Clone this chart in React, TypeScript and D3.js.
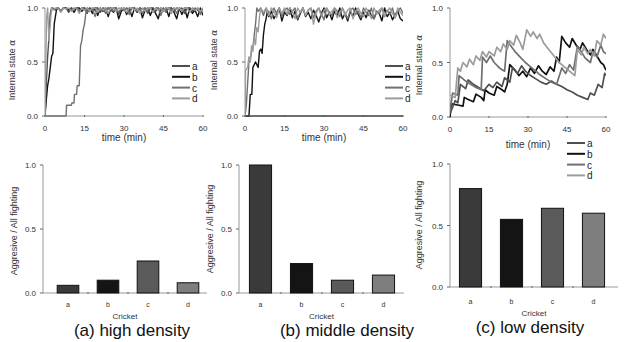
import * as d3 from "d3";

type Pt = [number, number];

// shared categories and ticks
const crickets = ["a", "b", "c", "d"];
const timeTicks = [0, 15, 30, 45, 60];
const stateTicks = [0, 0.5, 1];
const ratioTicks = [0, 0.5, 1];
const lineColors = ["#4f4f4f", "#111111", "#707070", "#9c9c9c"];
const barColors = ["#3a3a3a", "#141414", "#5a5a5a", "#7e7e7e"];
// draw black first so the grey ones sit on top, like the original
const drawOrder = [1, 0, 2, 3];

// aggressive / all fighting per cricket
const highRatio = [0.06, 0.1, 0.25, 0.08];
const middleRatio = [1.0, 0.23, 0.1, 0.14];
const lowRatio = [0.8, 0.55, 0.64, 0.6];

// high density: rising part + per-minute plateau values
const highRiseA: Pt[] = [[0, 0], [0.5, 0.3], [1, 0.55], [1.5, 0.72], [2, 0.95], [2.5, 1]];
const highTailA = [1, 0.98, 1, 0.97, 1, 1, 0.96, 1, 0.99, 1, 0.97, 1, 1, 0.95, 1, 0.98, 1, 1, 0.96, 1, 0.99, 1, 0.97, 1, 1, 0.94, 1, 0.98, 1, 0.97, 1, 1, 0.96, 1, 0.99, 1, 0.95, 1, 1, 0.97, 1, 0.98, 1, 0.96, 1, 1, 0.97, 1, 0.99, 1, 0.95, 1, 1, 0.97, 1, 0.98, 0.96, 1];
const highRiseB: Pt[] = [[0, 0], [0.5, 0.15], [1, 0.28], [1.5, 0.35], [2, 0.45], [2.5, 0.55], [3, 0.58], [3.5, 0.85], [4, 0.93], [4.5, 1]];
const highTailB = [1, 0.97, 1, 1, 0.98, 1, 0.96, 1, 1, 0.97, 1, 0.98, 1, 0.95, 1, 0.93, 1, 0.97, 1, 0.92, 1, 0.96, 1, 0.9, 0.97, 1, 0.94, 1, 0.92, 1, 0.96, 1, 0.91, 0.98, 1, 0.93, 1, 0.95, 0.9, 1, 0.97, 1, 0.92, 1, 0.96, 0.9, 1, 0.94, 1, 0.91, 1, 0.95, 0.98, 0.92, 1, 0.93];
const highRiseC: Pt[] = [[0, 0], [8, 0], [8.2, 0.1], [10, 0.1], [10.2, 0.12], [11, 0.12], [11.2, 0.2], [12, 0.2], [12.2, 0.28], [13, 0.28], [13.5, 0.65], [14, 0.7], [14.5, 0.8], [15, 0.85], [15.5, 0.95], [16, 1]];
const highTailC = [0.97, 1, 0.92, 1, 0.98, 1, 0.95, 1, 1, 0.97, 1, 0.96, 1, 0.98, 1, 0.94, 1, 1, 0.97, 1, 0.95, 1, 0.98, 1, 0.96, 1, 1, 0.93, 1, 0.97, 1, 0.98, 1, 0.95, 1, 0.97, 1, 1, 0.96, 1, 0.98, 1, 0.94, 1];
const highRiseD: Pt[] = [[0, 0], [0.3, 0.5], [0.6, 0.9], [1, 1], [1.5, 0.7], [2, 0.85], [2.5, 1]];
const highTailD = [0.98, 1, 1, 0.96, 1, 0.99, 1, 0.97, 1, 1, 0.95, 1, 0.98, 1, 0.97, 1, 1, 0.96, 1, 0.98, 1, 0.95, 1, 1, 0.97, 1, 0.99, 1, 0.96, 1, 1, 0.98, 1, 0.95, 1, 0.97, 1, 1, 0.96, 1, 0.98, 1, 0.97, 1, 1, 0.95, 1, 0.99, 1, 0.97, 1, 1, 0.96, 1, 0.98, 1, 0.97, 1];

// middle density
const middleA: Pt[] = [[0, 0], [60, 0]];
const middleRiseB: Pt[] = [[0, 0], [1.5, 0], [2, 0.2], [2.6, 0.2], [3, 0.45], [4, 0.5], [5, 0.45], [5.5, 0.6], [6, 0.62], [6.5, 0.58], [7, 0.75], [7.5, 0.85], [8, 0.9], [8.5, 0.97]];
const middleTailB = [0.92, 0.97, 0.9, 0.95, 1, 0.88, 0.96, 0.93, 1, 0.91, 0.97, 0.89, 0.95, 1, 0.92, 0.96, 0.9, 0.98, 0.93, 0.87, 0.95, 1, 0.91, 0.96, 0.89, 0.97, 0.93, 1, 0.9, 0.95, 0.88, 0.97, 0.92, 1, 0.94, 0.89, 0.96, 0.91, 0.98, 0.93, 0.9, 0.97, 0.95, 0.88, 1, 0.92, 0.96, 0.89, 0.94, 0.97, 0.9, 0.88];
const middleRiseC: Pt[] = [[0, 0], [0.5, 0.1], [1, 0.3], [1.5, 0.5], [2, 0.52], [2.5, 0.6], [3, 0.63], [3.5, 0.75], [4, 0.85], [4.5, 1]];
const middleTailC = [0.97, 1, 0.93, 1, 0.96, 0.9, 1, 0.95, 1, 0.92, 0.98, 1, 0.94, 0.97, 1, 0.9, 0.96, 1, 0.93, 0.98, 1, 0.91, 0.97, 1, 0.95, 0.89, 1, 0.96, 0.93, 1, 0.97, 0.92, 1, 0.95, 0.9, 0.98, 1, 0.94, 0.97, 0.91, 1, 0.96, 0.93, 1, 0.9, 0.97, 0.95, 1, 0.92, 0.98, 0.94, 1, 0.91, 0.97, 1, 0.95];
const middleRiseD: Pt[] = [[0, 0], [0.2, 0.42], [1, 0.45], [1.5, 0.55], [2, 0.5], [2.5, 0.65], [3, 0.6], [3.5, 0.72], [4, 0.66], [4.5, 0.82], [5, 0.78], [5.5, 0.92], [6, 1]];
const middleTailD = [0.96, 1, 0.93, 1, 0.97, 0.91, 1, 0.95, 1, 0.94, 1, 0.97, 0.9, 1, 0.96, 1, 0.93, 0.98, 1, 0.85, 0.95, 1, 0.92, 0.98, 1, 0.94, 0.97, 1, 0.91, 0.96, 1, 0.93, 0.98, 1, 0.9, 0.97, 1, 0.95, 0.92, 1, 0.96, 0.9, 1, 0.94, 0.98, 1, 0.92, 0.97, 1, 0.95, 0.91, 1, 0.96, 0.93];

// low density (sawtooth)
const lowA: Pt[] = [[0, 0.03], [2, 0.15], [3, 0.13], [4, 0.3], [6, 0.26], [7, 0.34], [9, 0.3], [11, 0.27], [13, 0.24], [15, 0.3], [16.5, 0.27], [18, 0.32], [20, 0.28], [21, 0.36], [23, 0.32], [24, 0.45], [26, 0.4], [27.5, 0.47], [29, 0.42], [31, 0.38], [33, 0.35], [35, 0.32], [37, 0.3], [39, 0.33], [41, 0.3], [43, 0.28], [45, 0.25], [47, 0.23], [49, 0.2], [51, 0.18], [53, 0.16], [54, 0.22], [55.5, 0.2], [57, 0.3], [58.5, 0.27], [59.5, 0.4], [60, 0.38]];
const lowB: Pt[] = [[0, 0], [0.5, 0.12], [3, 0.11], [5, 0.1], [5.5, 0.18], [7, 0.16], [9, 0.14], [10, 0.21], [12, 0.18], [13, 0.15], [13.5, 0.25], [15, 0.22], [17, 0.2], [18, 0.28], [20, 0.25], [21, 0.23], [22, 0.3], [23, 0.48], [25, 0.43], [26.5, 0.38], [28, 0.42], [29.5, 0.37], [31, 0.45], [32.5, 0.4], [34, 0.47], [35.5, 0.42], [37, 0.39], [38.5, 0.46], [40, 0.42], [41, 0.55], [42, 0.5], [43, 0.74], [44.5, 0.68], [46, 0.64], [47, 0.72], [48.5, 0.66], [50, 0.62], [51, 0.68], [52.5, 0.62], [54, 0.57], [55, 0.62], [56.5, 0.56], [58, 0.5], [59, 0.48], [60, 0.43]];
const lowC: Pt[] = [[0, 0.05], [1, 0.22], [3, 0.2], [3.5, 0.38], [6, 0.33], [8, 0.3], [10, 0.27], [12, 0.25], [12.5, 0.55], [14, 0.5], [15.5, 0.56], [17, 0.5], [19, 0.45], [21, 0.42], [22, 0.7], [23.5, 0.65], [25, 0.6], [27, 0.55], [29, 0.5], [31, 0.46], [33, 0.42], [35, 0.38], [37, 0.35], [39, 0.32], [41, 0.3], [43, 0.45], [44.5, 0.4], [46, 0.48], [47.5, 0.43], [49, 0.65], [50.5, 0.6], [52, 0.54], [54, 0.5], [55, 0.6], [56.5, 0.55], [58, 0.66], [59, 0.6], [60, 0.58]];
const lowD: Pt[] = [[0, 0.2], [2, 0.18], [3, 0.45], [4, 0.42], [5, 0.5], [6.5, 0.46], [7.5, 0.53], [9, 0.48], [10, 0.56], [11.5, 0.52], [12.5, 0.6], [14, 0.55], [15, 0.6], [17, 0.56], [18, 0.64], [19.5, 0.6], [20.5, 0.67], [22, 0.62], [23, 0.7], [24.5, 0.66], [25.5, 0.75], [27, 0.68], [28, 0.62], [29.5, 0.8], [31, 0.74], [32, 0.78], [33.5, 0.72], [34.5, 0.76], [36, 0.68], [38, 0.62], [40, 0.56], [42, 0.5], [44, 0.46], [46, 0.42], [48, 0.38], [49, 0.62], [50.5, 0.57], [51.5, 0.64], [53, 0.58], [54, 0.62], [55.5, 0.56], [56.5, 0.7], [58, 0.66], [59, 0.76], [60, 0.72]];

// append the per-minute plateau values after the rising part
const withTail = (rise: Pt[], start: number, tail: number[]): Pt[] =>
  rise.concat(tail.map((v, i) => [start + i, v] as Pt));

const FONT = "'Liberation Sans', Arial, sans-serif";

type LineProps = {
  id: string;
  left: number; right: number; top: number; bottom: number;
  series: Pt[][];
  legend: { x: number; y: number; gap: number };
  yLabel: { x: number; y: number };
  xLabelY: number;
  width: number;
};

function LinePanel(p: LineProps) {
  const x = d3.scaleLinear().domain([0, 60]).range([p.left, p.right]);
  const y = d3.scaleLinear().domain([0, 1]).range([p.bottom, p.top]);
  const line = d3.line<Pt>().x(d => x(d[0])).y(d => y(d[1]));
  return (
    <g>
      <clipPath id={p.id}>
        <rect x={p.left} y={p.top - 3} width={p.right - p.left} height={p.bottom - p.top + 6} />
      </clipPath>
      <line x1={p.left} x2={p.left} y1={p.top} y2={p.bottom} stroke="#999" />
      <line x1={p.left} x2={p.right} y1={p.bottom} y2={p.bottom} stroke="#999" />
      {stateTicks.map(t => (
        <g key={t}>
          <line x1={p.left - 3} x2={p.left} y1={y(t)} y2={y(t)} stroke="#666" />
          <text x={p.left - 7} y={y(t) + 3} textAnchor="end" fontSize={8} fill="#333">{t.toFixed(1)}</text>
        </g>
      ))}
      {timeTicks.map(t => (
        <g key={t}>
          <line x1={x(t)} x2={x(t)} y1={p.bottom - 1} y2={p.bottom + 1} stroke="#666" />
          <text x={x(t)} y={p.bottom + 15} textAnchor="middle" fontSize={8} fill="#333">{t}</text>
        </g>
      ))}
      <text x={(p.left + p.right) / 2} y={p.xLabelY} textAnchor="middle" fontSize={10} fill="#333">time (min)</text>
      <text transform={`translate(${p.yLabel.x},${p.yLabel.y}) rotate(-90)`} textAnchor="middle" fontSize={9} fill="#333">
        Internal state <tspan fontStyle="italic" fontFamily="'DejaVu Serif', serif">α</tspan>
      </text>
      <g clipPath={`url(#${p.id})`}>
        {drawOrder.map(i => (
          <path key={i} d={line(p.series[i]) ?? ""} fill="none" stroke={lineColors[i]} strokeWidth={p.width} strokeLinejoin="round" />
        ))}
      </g>
      {crickets.map((c, i) => (
        <g key={c}>
          <line x1={p.legend.x} x2={p.legend.x + 18} y1={p.legend.y + i * p.legend.gap} y2={p.legend.y + i * p.legend.gap}
            stroke={lineColors[i]} strokeWidth={2} />
          <text x={p.legend.x + 20} y={p.legend.y + i * p.legend.gap + 4} fontSize={10} fill="#222">{c}</text>
        </g>
      ))}
    </g>
  );
}

type BarProps = {
  left: number; right: number; top: number; bottom: number;
  bandRange: [number, number];
  values: number[];
  yLabel: { x: number; y: number };
  catY: number; crickY: number;
  title: string; titleX: number; titleY: number;
};

function BarPanel(p: BarProps) {
  const x = d3.scaleBand<string>().domain(crickets).range(p.bandRange).paddingInner(0.46).paddingOuter(0.23);
  const y = d3.scaleLinear().domain([0, 1]).range([p.bottom, p.top]);
  const step = x.step();
  return (
    <g>
      <line x1={p.left} x2={p.left} y1={p.top} y2={p.bottom} stroke="#999" />
      <line x1={p.left} x2={p.right} y1={p.bottom} y2={p.bottom} stroke="#999" />
      {ratioTicks.map(t => (
        <g key={t}>
          <line x1={p.left - 3} x2={p.left} y1={y(t)} y2={y(t)} stroke="#666" />
          <text x={p.left - 7} y={y(t) + 3} textAnchor="end" fontSize={8} fill="#333">{t.toFixed(1)}</text>
        </g>
      ))}
      {crickets.slice(1).map(c => (
        <line key={c} x1={x(c)! - (step - x.bandwidth()) / 2} x2={x(c)! - (step - x.bandwidth()) / 2}
          y1={p.bottom - 1} y2={p.bottom + 1} stroke="#666" />
      ))}
      {crickets.map((c, i) => (
        <g key={c}>
          <rect x={x(c)} y={y(p.values[i])} width={x.bandwidth()} height={p.bottom - y(p.values[i])}
            fill={barColors[i]} stroke="#111" strokeWidth={1} />
          <text x={x(c)! + x.bandwidth() / 2} y={p.catY} textAnchor="middle" fontSize={7} fill="#333">{c}</text>
        </g>
      ))}
      <text x={(p.left + p.right) / 2} y={p.crickY} textAnchor="middle" fontSize={8} fill="#333">Cricket</text>
      <text transform={`translate(${p.yLabel.x},${p.yLabel.y}) rotate(-90)`} textAnchor="middle" fontSize={9} fill="#333">
        Aggresive / All fighting
      </text>
      <text x={p.titleX} y={p.titleY} textAnchor="middle" fontSize={17} fill="#111">{p.title}</text>
    </g>
  );
}

export default function App() {
  const highSeries = [
    withTail(highRiseA, 3, highTailA),
    withTail(highRiseB, 5, highTailB),
    withTail(highRiseC, 17, highTailC),
    withTail(highRiseD, 3, highTailD),
  ];
  const middleSeries = [
    middleA,
    withTail(middleRiseB, 9, middleTailB),
    withTail(middleRiseC, 5, middleTailC),
    withTail(middleRiseD, 7, middleTailD),
  ];
  const lowSeries = [lowA, lowB, lowC, lowD];

  return (
    <svg width={628} height={342} style={{ position: "absolute", left: 0, top: 0, background: "#fff" }} fontFamily={FONT}>
      <rect width={628} height={342} fill="#fff" />
      <LinePanel id="clipA" left={45} right={203} top={8} bottom={116} series={highSeries}
        legend={{ x: 172, y: 66, gap: 10.8 }} yLabel={{ x: 15, y: 70 }} xLabelY={141} width={1.4} />
      <LinePanel id="clipB" left={245} right={403} top={8} bottom={116} series={middleSeries}
        legend={{ x: 385, y: 66, gap: 10.8 }} yLabel={{ x: 217, y: 60 }} xLabelY={141} width={1.4} />
      <LinePanel id="clipC" left={450} right={606} top={8} bottom={117} series={lowSeries}
        legend={{ x: 567, y: 143, gap: 10.8 }} yLabel={{ x: 422, y: 65 }} xLabelY={148} width={1.7} />

      <BarPanel left={43} right={207} top={165} bottom={293} bandRange={[48, 208]} values={highRatio}
        yLabel={{ x: 17, y: 231 }} catY={307} crickY={319} title="(a) high density" titleX={132} titleY={336} />
      <BarPanel left={239} right={404} top={165} bottom={293} bandRange={[240, 404]} values={middleRatio}
        yLabel={{ x: 213, y: 229 }} catY={307} crickY={319} title="(b) middle density" titleX={347} titleY={336} />
      <BarPanel left={450} right={618} top={164} bottom={287} bandRange={[450, 614]} values={lowRatio}
        yLabel={{ x: 422, y: 225 }} catY={304} crickY={316} title="(c) low density" titleX={530} titleY={333} />
    </svg>
  );
}
